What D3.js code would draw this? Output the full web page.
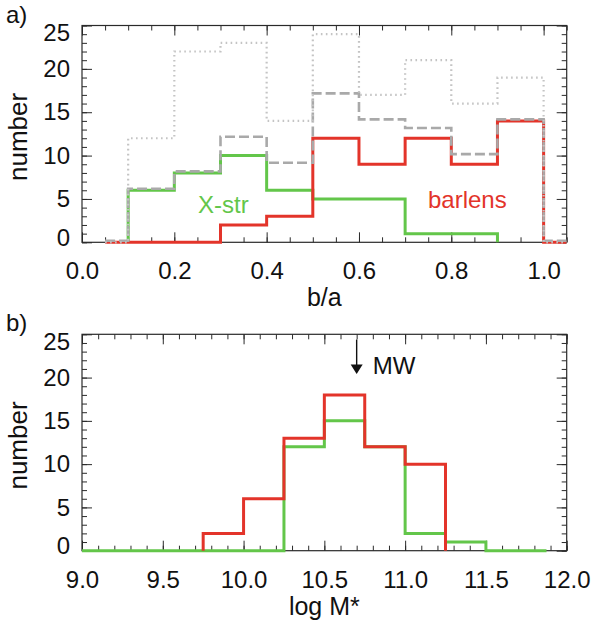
<!DOCTYPE html>
<html>
<head>
<meta charset="utf-8">
<script src="https://cdn.jsdelivr.net/npm/d3@7"></script>
<style>
  body { margin: 0; background: #fff; }
  text { font-family: "Liberation Sans", Arial, Helvetica, sans-serif; }
</style>
</head>
<body>
<svg id="chart" width="591" height="624"></svg>
<script>
// ---- data -------------------------------------------------------------
// Axis-ratio histogram: bin edges (half-width bins at both ends)
const ratioEdges = [0.05, 0.1, 0.2, 0.3, 0.4, 0.5, 0.6, 0.7, 0.8, 0.9, 1.0, 1.05];
const ratioAll     = [0, 12, 22, 23, 14, 24, 17, 21, 16, 19, 0];
const ratioBarred  = [0, 6, 8, 12, 9, 17, 14, 13, 10, 14, 0];
const ratioBarlens = [0, 0, 0, 2, 3, 12, 9, 12, 9, 14, 0];
const ratioXstr    = [null, 6, 8, 10, 6, 5, 5, 1, 1, null, null];
const ratioTicks = [0.0, 0.2, 0.4, 0.6, 0.8, 1.0];

// Stellar-mass histogram
const massEdges = [8.75, 9.0, 9.25, 9.5, 9.75, 10.0, 10.25, 10.5, 10.75, 11.0, 11.25, 11.5, 11.75, 11.875];
const massBarlens = [null, null, null, null, 2, 6, 13, 18, 12, 10, null, null, null];
const massXstr    = [0, 0, 0, 0, 0, 0, 12, 15, 12, 2, 1, 0, 0];
const massTicks = [9.0, 9.5, 10.0, 10.5, 11.0, 11.5, 12.0];

const countTicks = [0, 5, 10, 15, 20, 25];
const mwLogMass = 10.7;

// ---- layout -----------------------------------------------------------
const svg = d3.select("#chart");
const FONT = 24;
const RED = "#e3342a", GREEN = "#63c64a", INK = "#2a2a2a";
const left = 82, right = 566.7;

function stepPoints(edges, counts) {
  const idx = counts.map((c, i) => (c == null ? -1 : i)).filter(i => i >= 0);
  const i0 = idx[0], i1 = idx[idx.length - 1];
  const pts = [[edges[i0], 0]];
  for (let i = i0; i <= i1; i++) pts.push([edges[i], counts[i]]);
  pts.push([edges[i1 + 1], 0]);
  return pts;
}

function panel(opts) {
  const { top, bottom, xDomain, xMajor, xMinorStep, tag, xTitle, id } = opts;
  const x = d3.scaleLinear().domain(xDomain).range([left, right]);
  const y = d3.scaleLinear().domain([0, 25]).range([bottom, top]);
  const g = svg.append("g");

  g.append("clipPath").attr("id", id)
    .append("rect").attr("x", left).attr("y", top - 4)
    .attr("width", right - left).attr("height", bottom - top + 8);

  const minorX = d3.range(xDomain[0], xDomain[1] + 1e-9, xMinorStep);
  const minorY = d3.range(0, 25.001, 1);

  // minor ticks on all four sides
  const tickStyle = s => s.call(a => a.select(".domain").remove())
    .call(a => a.selectAll("line").attr("stroke", INK).attr("stroke-width", 1))
    .call(a => a.selectAll("text").remove());
  g.append("g").attr("transform", `translate(0,${bottom})`)
    .call(d3.axisBottom(x).tickValues(minorX).tickSize(-5)).call(tickStyle);
  g.append("g").attr("transform", `translate(0,${top})`)
    .call(d3.axisTop(x).tickValues(minorX).tickSize(-5)).call(tickStyle);
  g.append("g").attr("transform", `translate(${left},0)`)
    .call(d3.axisLeft(y).tickValues(minorY).tickSize(-5)).call(tickStyle);
  g.append("g").attr("transform", `translate(${right},0)`)
    .call(d3.axisRight(y).tickValues(minorY).tickSize(-5)).call(tickStyle);
  g.append("g").attr("transform", `translate(0,${top})`)
    .call(d3.axisTop(x).tickValues(xMajor).tickSize(-10)).call(tickStyle);
  g.append("g").attr("transform", `translate(${right},0)`)
    .call(d3.axisRight(y).tickValues(countTicks).tickSize(-10)).call(tickStyle);

  // labelled axes
  const bx = g.append("g").attr("transform", `translate(0,${bottom})`)
    .call(d3.axisBottom(x).tickValues(xMajor).tickSize(-10).tickPadding(20)
      .tickFormat(d3.format(".1f")));
  bx.select(".domain").remove();
  bx.selectAll("line").attr("stroke", INK);
  bx.selectAll("text").attr("font-size", FONT).attr("fill", "#111")
    .style("font-family", "'Liberation Sans', Arial, sans-serif");

  const ly = g.append("g").attr("transform", `translate(${left},0)`)
    .call(d3.axisLeft(y).tickValues(countTicks).tickSize(-10).tickPadding(12));
  ly.select(".domain").remove();
  ly.selectAll("line").attr("stroke", INK);
  ly.selectAll("text").attr("font-size", FONT).attr("fill", "#111")
    .style("font-family", "'Liberation Sans', Arial, sans-serif")
    .attr("y", d => (d === 25 ? 7.5 : d === 0 ? -4.8 : 0));

  // frame
  g.append("rect").attr("x", left).attr("y", top)
    .attr("width", right - left).attr("height", bottom - top)
    .attr("fill", "none").attr("stroke", INK).attr("stroke-width", 1.2);

  // titles
  g.append("text").attr("x", (left + right) / 2).attr("y", bottom + 64)
    .attr("text-anchor", "middle").attr("font-size", FONT + 1).attr("fill", "#111")
    .text(xTitle);
  g.append("text")
    .attr("transform", `translate(27,${(top + bottom) / 2 + 3}) rotate(-90)`)
    .attr("text-anchor", "middle").attr("font-size", FONT + 2).attr("fill", "#111")
    .text("number");
  g.append("text").attr("x", 6).attr("y", top - 3)
    .attr("font-size", FONT).attr("fill", "#111").text(tag);

  const line = d3.line().x(d => x(d[0])).y(d => y(d[1])).curve(d3.curveStepAfter);
  const plot = g.append("g").attr("clip-path", `url(#${id})`);
  return { x, y, line, plot, g };
}

// ---- panel a: axis ratio ---------------------------------------------
const pa = panel({ top: 25.5, bottom: 242.3, xDomain: [0, 1.05], xMajor: ratioTicks,
  xMinorStep: 0.05, tag: "a)", xTitle: "b/a", id: "clipA" });

pa.plot.append("path").attr("d", pa.line(stepPoints(ratioEdges, ratioXstr)))
  .attr("fill", "none").attr("stroke", GREEN).attr("stroke-width", 3);
pa.plot.append("path").attr("d", pa.line(stepPoints(ratioEdges, ratioBarlens)))
  .attr("fill", "none").attr("stroke", RED).attr("stroke-width", 3);
pa.plot.append("path").attr("d", pa.line(stepPoints(ratioEdges, ratioBarred)))
  .attr("transform", "translate(0,-1.5)")
  .attr("fill", "none").attr("stroke", "#a9a9a9").attr("stroke-width", 2.6)
  .attr("stroke-dasharray", "10,4");
pa.plot.append("path").attr("d", pa.line(stepPoints(ratioEdges, ratioAll)))
  .attr("fill", "none").attr("stroke", "#c4c4c4").attr("stroke-width", 2.2)
  .attr("stroke-dasharray", "1.6,3.4");

pa.g.append("text").attr("x", 198).attr("y", 213).attr("font-size", FONT)
  .attr("fill", GREEN).text("X-str");
pa.g.append("text").attr("x", 428).attr("y", 208).attr("font-size", FONT)
  .attr("fill", RED).text("barlens");

// ---- panel b: stellar mass -------------------------------------------
const pb = panel({ top: 334.3, bottom: 550.7, xDomain: [9, 12], xMajor: massTicks,
  xMinorStep: 0.1, tag: "b)", xTitle: "log M*", id: "clipB" });

pb.plot.append("path").attr("d", pb.line(stepPoints(massEdges, massXstr)))
  .attr("fill", "none").attr("stroke", GREEN).attr("stroke-width", 3);
pb.plot.append("path").attr("d", pb.line(stepPoints(massEdges, massBarlens)))
  .attr("fill", "none").attr("stroke", RED).attr("stroke-width", 3);

// Milky Way marker
const mx = pb.x(mwLogMass);
pb.g.append("line").attr("x1", mx).attr("x2", mx)
  .attr("y1", pb.y(24.4)).attr("y2", pb.y(21.3))
  .attr("stroke", "#111").attr("stroke-width", 1.4);
pb.g.append("path")
  .attr("d", `M${mx - 6},${pb.y(21.5)} L${mx + 6},${pb.y(21.5)} L${mx},${pb.y(20.4)} Z`)
  .attr("fill", "#111");
pb.g.append("text").attr("x", mx + 16).attr("y", pb.y(20.4)).attr("font-size", FONT)
  .attr("fill", "#111").text("MW");
</script>
</body>
</html>
